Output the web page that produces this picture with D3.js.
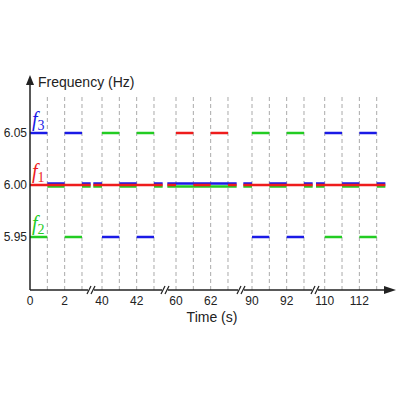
<!DOCTYPE html><html><head><script src="https://cdn.jsdelivr.net/npm/d3@7"></script>
<style>body{margin:0;background:#fff}</style></head><body><svg id="c" width="400" height="400"></svg><script>
const segStarts=[0,40,60,90,110];
const segRanges=[[0,3.5],[39.5,43.5],[59.5,63.5],[89.5,93.5],[109.5,113.5]];
const tickLabels=[0,2,40,42,60,62,90,92,110,112];
const gridTimes=[1,2,3,40,41,42,43,60,61,62,63,90,91,92,93,110,111,112,113];
const freqTicks=[6.05,6.00,5.95];
const upperSrc=["f3","f2","f1","f2","f3"];
const lowerSrc=["f2","f3",null,"f3","f2"];
const colors={f1:"#ee1c1c",f2:"#22cc22",f3:"#1a1ae6"};
const svg=d3.select("#c");
const k=17.33, basePx=[30,102,176,252,324.7];
const segScales=segStarts.map((s,i)=>d3.scaleLinear().domain([s,s+1]).range([basePx[i],basePx[i]+k]));
function segOf(t){let i=0;segStarts.forEach((s,j)=>{if(t>=s-0.6)i=j});return i;}
const x=t=>segScales[segOf(t)](t);
const y=d3.scaleLinear().domain([5.95,6.05]).range([237,133]);
const yAxisTop=75, xAxisY=290;
svg.selectAll(".g").data(gridTimes).join("line").attr("x1",d=>x(d)).attr("x2",d=>x(d)).attr("y1",97).attr("y2",xAxisY)
 .attr("stroke","#aaa").attr("stroke-width",1).attr("stroke-dasharray","4,3");
const segs=[];
segStarts.forEach((s,i)=>{
 const [a,b]=segRanges[i];
 const hi=[[s,s+1],[s+2,s+3]];
 const gaps=[[a,s],[s+1,s+2],[s+3,b]];
 ["f3","f2","f1"].forEach(src=>{
  let level=null;
  if(upperSrc[i]===src)level=6.05; else if(lowerSrc[i]===src)level=5.95;
  if(level!==null){hi.forEach(h=>segs.push({src,f:level,t0:h[0],t1:h[1]}));gaps.forEach(g=>segs.push({src,f:6.00,t0:g[0],t1:g[1]}));}
  else segs.push({src,f:6.00,t0:a,t1:b});
 });
});
const off={f3:-1.5,f2:1.5,f1:0};
const order={f3:0,f2:1,f1:2};
segs.sort((p,q)=>order[p.src]-order[q.src]);
svg.selectAll(".s").data(segs).join("line")
 .attr("x1",d=>x(d.t0)).attr("x2",d=>x(d.t1))
 .attr("y1",d=>y(d.f)+(d.f===6?off[d.src]:0)).attr("y2",d=>y(d.f)+(d.f===6?off[d.src]:0))
 .attr("stroke",d=>colors[d.src]).attr("stroke-width",2.5);
svg.append("line").attr("x1",30).attr("x2",30).attr("y1",xAxisY).attr("y2",yAxisTop+8).attr("stroke","#222").attr("stroke-width",1.5);
svg.append("path").attr("d",`M26,${yAxisTop+10}L30,${yAxisTop}L34,${yAxisTop+10}Z`).attr("fill","#222");
svg.append("line").attr("x1",30).attr("x2",386).attr("y1",xAxisY).attr("y2",xAxisY).attr("stroke","#222").attr("stroke-width",1.5);
svg.append("path").attr("d",`M384,${xAxisY-4}L396,${xAxisY}L384,${xAxisY+4}Z`).attr("fill","#222");
[91,165,241,315].forEach(bx=>{
 svg.append("rect").attr("x",bx-3).attr("y",xAxisY-3).attr("width",6).attr("height",6).attr("fill","#fff");
 [-2,2].forEach(dx=>svg.append("line").attr("x1",bx+dx-2).attr("x2",bx+dx+2).attr("y1",xAxisY+4).attr("y2",xAxisY-4).attr("stroke","#222").attr("stroke-width",1.2));
});
const font="Liberation Sans, Arial, sans-serif";
svg.selectAll(".yt").data(freqTicks).join("text").attr("x",27).attr("y",d=>y(d)+4).attr("text-anchor","end")
 .attr("font-family",font).attr("font-size",12).attr("fill","#222").text(d=>d.toFixed(2));
svg.selectAll(".xt").data(tickLabels).join("text").attr("x",d=>x(d)).attr("y",xAxisY+15).attr("text-anchor","middle")
 .attr("font-family",font).attr("font-size",12).attr("fill","#222").text(d=>d);
svg.append("text").attr("x",38).attr("y",87).attr("font-family",font).attr("font-size",14).attr("fill","#222").text("Frequency (Hz)");
svg.append("text").attr("x",212).attr("y",322).attr("text-anchor","middle").attr("font-family",font).attr("font-size",14).attr("fill","#222").text("Time (s)");
const fl=[["f3",6.05],["f1",6.00],["f2",5.95]];
fl.forEach(([n,f])=>{
 const t=svg.append("text").attr("x",32).attr("y",y(f)-7).attr("font-family","Liberation Serif, Times New Roman, serif").attr("fill",colors[n]).attr("font-size",20);
 t.append("tspan").attr("font-style","italic").text("f");
 t.append("tspan").attr("dy",4).attr("font-size",14).text(n.slice(1));
});
</script></body></html>
